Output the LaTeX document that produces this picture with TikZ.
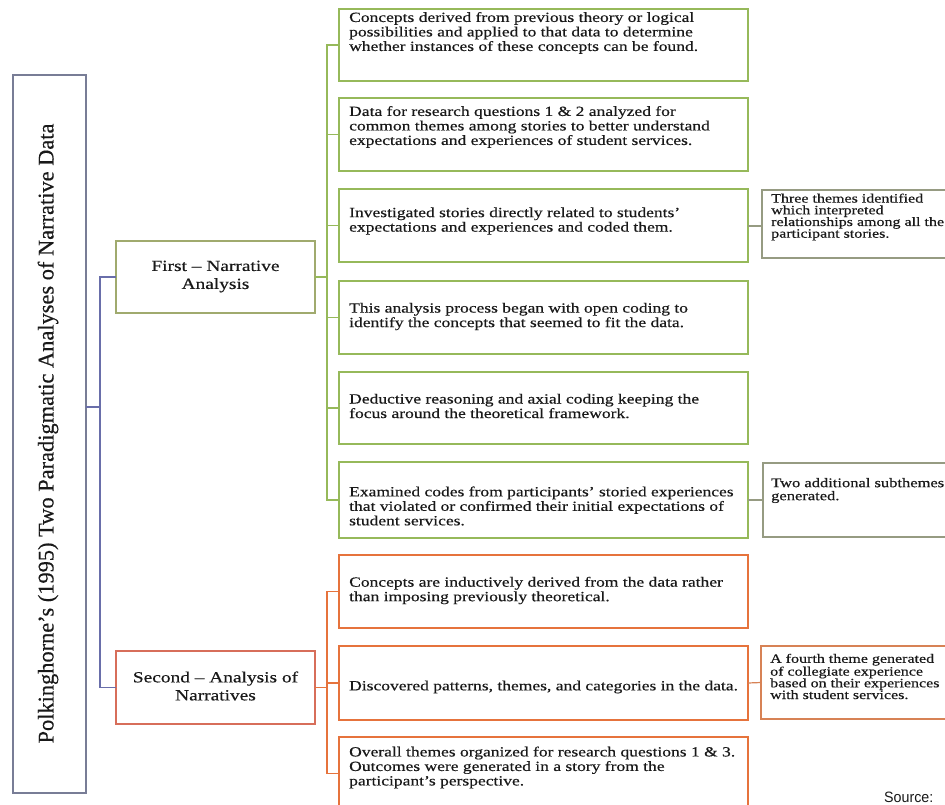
\documentclass[tikz,border=0pt]{standalone}
\usepackage{fontspec}
\setmainfont{Liberation Serif}
\newfontfamily\bodyfont{Liberation Serif}[FakeStretch=1.25,FakeBold=0.4]
\newfontfamily\titlefont{Liberation Serif}[FakeBold=0.4]
\newfontfamily\srcfont{Liberation Sans}[FakeStretch=0.95]
\definecolor{gline}{RGB}{150,185,90}
\definecolor{oline}{RGB}{230,115,60}
\definecolor{lline}{RGB}{120,125,150}
\definecolor{bline}{RGB}{105,110,170}
\definecolor{fline}{RGB}{160,170,110}
\definecolor{sline}{RGB}{215,110,90}
\definecolor{rline}{RGB}{150,155,130}
\definecolor{r3line}{RGB}{215,130,85}
\definecolor{txt}{RGB}{25,25,25}
\tikzset{
  boxshape/.style={draw, rectangle, inner sep=0pt, outer sep=0pt, line width=1.5pt},
  gbox/.style={boxshape, draw=gline, minimum width=409pt},
  obox/.style={boxshape, draw=oline, minimum width=409pt},
  rbox/.style={boxshape, draw=rline, minimum width=203pt},
  btext/.style={anchor=west, align=left, inner sep=0pt, text=txt,
    font={\bodyfont\fontsize{14}{14.5}\selectfont}},
  rtext/.style={anchor=west, align=left, inner sep=0pt, text=txt,
    font={\bodyfont\fontsize{12.8}{11.7}\selectfont}},
  ltext/.style={align=center, inner sep=0pt, text=txt,
    font={\bodyfont\fontsize{15.5}{18}\selectfont}},
  gcon/.style={draw=gline, line width=1.2pt},
  ocon/.style={draw=oline, line width=1.2pt},
  bcon/.style={draw=bline, line width=1.2pt},
}
\begin{document}
\begin{tikzpicture}[x=1pt,y=-1pt]
\clip (0,0) rectangle (945,805);
\fill[white] (0,0) rectangle (945,805);

% left title box
\node[boxshape, draw=lline, minimum width=73pt, minimum height=718pt] (L) at (49.5,434) {};
\node[rotate=90, inner sep=0pt, text=txt, font={\titlefont\fontsize{22.4}{24}\selectfont}] (Lt) at (48,433.5)
  {Polkinghorne’s (1995) Two Paradigmatic Analyses of Narrative Data};

% first-level boxes
\node[boxshape, draw=fline, minimum width=199pt, minimum height=72pt] (F) at (215.5,277) {};
\node[ltext] (Ft) at (215.5,276.5) {First – Narrative\\Analysis};
\node[boxshape, draw=sline, minimum width=199pt, minimum height=73pt] (S) at (215.5,687.5) {};
\node[ltext] (St) at (215.5,686) {Second – Analysis of\\Narratives};

% green boxes
\node[gbox, minimum height=72pt] (G1) at (543.5,45) {};
\node[gbox, minimum height=73pt] (G2) at (543.5,134.5) {};
\node[gbox, minimum height=73pt] (G3) at (543.5,225.5) {};
\node[gbox, minimum height=73pt] (G4) at (543.5,317.5) {};
\node[gbox, minimum height=72pt] (G5) at (543.5,408) {};
\node[gbox, minimum height=76pt] (G6) at (543.5,500) {};
\node[btext] (G1t) at (349,33) {Concepts derived from previous theory or logical\\possibilities and applied to that data to determine\\whether instances of these concepts can be found.};
\node[btext] (G2t) at (349,127) {Data for research questions 1 \& 2 analyzed for\\common themes among stories to better understand\\expectations and experiences of student services.};
\node[btext] (G3t) at (349,221) {Investigated stories directly related to students’\\expectations and experiences and coded them.};
\node[btext] (G4t) at (349,316.5) {This analysis process began with open coding to\\identify the concepts that seemed to fit the data.};
\node[btext] (G5t) at (349,406) {Deductive reasoning and axial coding keeping the\\focus around the theoretical framework.};
\node[btext] (G6t) at (349,506) {Examined codes from participants’ storied experiences\\that violated or confirmed their initial expectations of\\student services.};

% orange boxes
\node[obox, minimum height=73pt] (O1) at (543.5,591.5) {};
\node[obox, minimum height=74pt] (O2) at (543.5,683) {};
\node[obox, minimum height=73pt] (O3) at (543.5,773.5) {};
\node[btext] (O1t) at (349,590.5) {Concepts are inductively derived from the data rather\\than imposing previously theoretical.};
\node[btext] (O2t) at (349,687) {Discovered patterns, themes, and categories in the data.};
\node[btext] (O3t) at (349,767.5) {Overall themes organized for research questions 1 \& 3.\\Outcomes were generated in a story from the\\participant’s perspective.};

% right boxes
\node[rbox, minimum height=68pt] (R1) at (863.5,224) {};
\node[rbox, minimum height=74pt] (R2) at (864.5,500) {};
\node[rbox, draw=r3line, minimum height=73pt] (R3) at (862.5,682.5) {};
\node[rtext] (R1t) at (771,217) {Three themes identified\\which interpreted\\relationships among all the\\participant stories.};
\node[rtext, font={\bodyfont\fontsize{13.2}{13}\selectfont}] (R2t) at (771,490.5) {Two additional subthemes\\generated.};
\node[rtext] (R3t) at (770,676.5) {A fourth theme generated\\of collegiate experience\\based on their experiences\\with student services.};

% source
\node[anchor=base west, inner sep=0pt, text=txt, font={\srcfont\fontsize{15}{15}\selectfont}] (src) at (884,802.5) {Source:};

% connectors: title box to first level
\coordinate (Lj) at (100,407);
\draw[bcon] (L.east |- Lj) -- (Lj);
\draw[bcon] (F.west) -- ++(-16,0) |- (S.west);

% first level to green boxes
\coordinate (Gj) at (327,277);
\draw[gcon] (F.east) -- (Gj);
\draw[gcon] (G1.west) -- ++(-12,0) |- (G6.west);
\foreach \g in {G2,G3,G4,G5} \draw[gcon] (\g.west) -- ++(-12,0);

% second level to orange boxes
\coordinate (Oj) at (327,687.5);
\draw[ocon] (S.east) -- (Oj);
\draw[ocon] (O1.west) -- ++(-12,0) |- (O3.west);
\draw[ocon] (O2.west) -- ++(-12,0);

% to right boxes
\draw[draw=rline, line width=1.2pt] (G3.east |- 0,226) -- (R1.west |- 0,226);
\draw[draw=rline, line width=1.2pt] (G6.east) -- (R2.west);
\draw[draw=r3line, line width=1.2pt] (O2.east) -- (R3.west);
\end{tikzpicture}
\end{document}
